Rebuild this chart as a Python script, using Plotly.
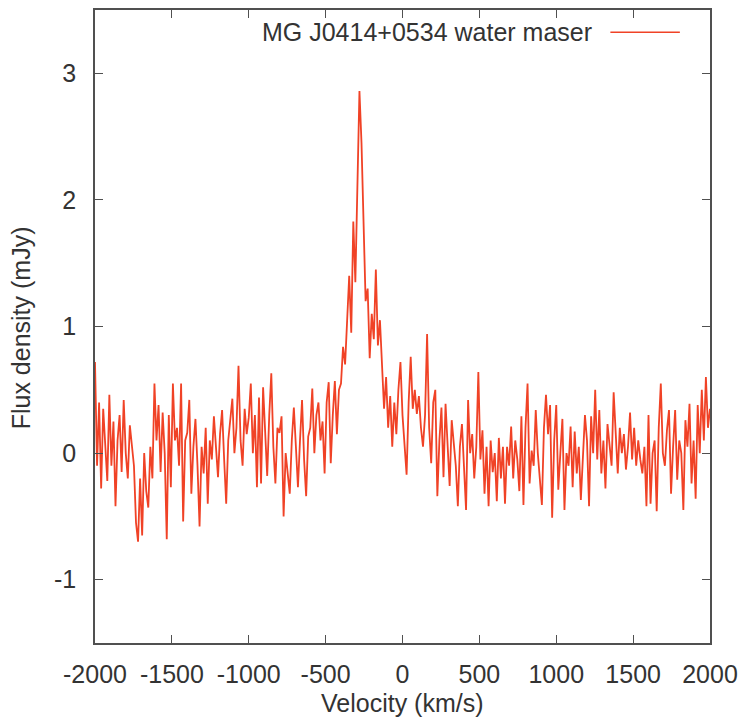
import numpy as np
import plotly.graph_objects as go

# ---- data ----
CHANNEL_START = -2000.0          # km/s
CHANNEL_WIDTH = 40.0 / 3.0       # km/s
flux_mjy = [
    0.72, -0.1, 0.4, -0.28, 0.35, 0.05, -0.22, 0.46, -0.1, 0.25,
    -0.42, 0.1, 0.3, -0.15, 0.42, 0.0, -0.2, 0.22, 0.05, -0.1,
    -0.55, -0.7, -0.2, -0.65, 0.0, -0.3, -0.43, 0.05, -0.2, 0.55,
    0.1, 0.38, -0.15, 0.32, 0.0, -0.68, 0.3, -0.27, 0.55, 0.1,
    0.2, -0.1, 0.55, -0.54, 0.1, 0.16, 0.42, -0.32, 0.05, 0.27,
    -0.1, -0.58, 0.05, -0.16, 0.2, -0.4, 0.1, -0.05, 0.29, 0.0,
    -0.19, 0.15, 0.34, -0.05, -0.4, 0.1, 0.25, 0.43, 0.0, 0.2,
    0.69, 0.1, -0.1, 0.35, 0.15, 0.28, 0.55, 0.0, 0.3, -0.27,
    0.44, -0.24, 0.52, 0.1, -0.18, 0.3, 0.63, 0.05, -0.24, 0.2,
    0.16, 0.29, -0.5, 0.0, -0.15, -0.32, 0.1, 0.36, 0.05, -0.27,
    0.1, 0.42, -0.05, -0.34, 0.13, 0.2, 0.51, 0.0, 0.3, 0.4,
    0.1, 0.25, -0.16, 0.4, 0.56, -0.08, 0.3, 0.57, 0.15, 0.5,
    0.55, 0.84, 0.7, 1.05, 1.4, 0.95, 1.83, 1.35, 2.2, 2.86,
    2.45, 1.72, 1.2, 1.3, 0.75, 1.1, 0.9, 1.45, 0.85, 1.05,
    0.7, 0.35, 0.6, 0.2, 0.45, 0.05, 0.4, 0.15, 0.5, 0.72,
    0.3, 0.1, -0.17, 0.4, 0.76, 0.35, 0.5, 0.31, 0.45, 0.2,
    0.05, 0.3, 0.94, 0.2, -0.08, 0.4, 0.5, -0.34, 0.1, 0.36,
    -0.19, 0.39, 0.0, -0.26, 0.26, 0.1, -0.1, -0.42, 0.05, 0.23,
    -0.1, -0.45, 0.42, 0.0, 0.15, -0.2, 0.05, 0.64, -0.05, 0.18,
    -0.32, 0.05, -0.42, 0.1, -0.15, 0.0, -0.38, 0.12, -0.2, 0.05,
    -0.4, 0.05, -0.1, 0.21, -0.2, 0.1, -0.05, -0.3, 0.29, -0.41,
    0.2, 0.55, -0.24, 0.02, -0.1, 0.34, 0.0, -0.2, -0.41, 0.2,
    0.46, 0.15, 0.38, -0.51, 0.1, 0.38, -0.29, 0.0, 0.27, -0.45,
    0.0, -0.1, 0.21, -0.27, 0.17, -0.16, 0.05, -0.37, 0.0, 0.3,
    0.1, -0.42, 0.29, 0.0, 0.5, -0.05, 0.34, -0.16, 0.1, -0.28,
    0.23, 0.05, -0.1, 0.48, 0.1, -0.16, 0.2, 0.0, 0.15, -0.13,
    0.05, 0.32, -0.05, 0.2, -0.1, 0.1, -0.05, -0.16, 0.05, -0.42,
    0.3, -0.4, 0.0, 0.1, -0.46, 0.2, 0.55, 0.0, -0.1, 0.18,
    0.34, -0.32, 0.05, 0.34, -0.21, 0.1, 0.0, -0.45, 0.26, 0.05,
    0.39, -0.24, 0.1, -0.36, 0.38, 0.0, 0.5, 0.1, 0.6, 0.2, 0.35,
]
velocity_kms = CHANNEL_START + CHANNEL_WIDTH * np.arange(len(flux_mjy))

x_tickvals = [-2000, -1500, -1000, -500, 0, 500, 1000, 1500, 2000]
x_ticktext = ["-2000", "-1500", "-1000", "-500", "0", "500", "1000", "1500", "2000"]
y_tickvals = [-1, 0, 1, 2, 3]
y_ticktext = ["-1", "0", "1", "2", "3"]
series_name = "MG J0414+0534 water maser"

# ---- styling ----
LINE_COLOR = "rgb(240,66,38)"
FRAME_COLOR = "#505050"
TEXT_COLOR = "#333333"
FONT = "Liberation Sans, Arial, sans-serif"
FS = 25

fig = go.Figure()
fig.add_trace(go.Scatter(
    x=velocity_kms, y=flux_mjy, mode="lines",
    line=dict(color=LINE_COLOR, width=1.8),
    name=series_name, showlegend=False,
))

axis_common = dict(
    showgrid=False, zeroline=False, showline=True, linecolor=FRAME_COLOR,
    linewidth=1.5, mirror="ticks", ticks="inside", ticklen=8, tickwidth=1.2,
    tickcolor=FRAME_COLOR, tickfont=dict(family=FONT, size=FS, color=TEXT_COLOR),
)

fig.update_xaxes(range=[-2000, 2000], tickvals=x_tickvals, ticktext=x_ticktext,
                 ticklabelstandoff=8, **axis_common)
fig.update_yaxes(range=[-1.5, 3.5], tickvals=y_tickvals, ticktext=y_ticktext,
                 ticklabelstandoff=12, **axis_common)

# legend (gnuplot style: text then sample line)
fig.add_annotation(xref="paper", yref="paper", x=0.812, y=0.965,
                   xanchor="right", yanchor="middle", showarrow=False,
                   text=series_name,
                   font=dict(family=FONT, size=FS, color=TEXT_COLOR))
fig.add_shape(type="line", xref="paper", yref="paper",
              x0=0.838, x1=0.951, y0=0.965, y1=0.965,
              line=dict(color=LINE_COLOR, width=1.5))

# axis titles
fig.add_annotation(xref="paper", yref="paper", x=0.5, y=-0.0945,
                   xanchor="center", yanchor="middle", showarrow=False,
                   text="Velocity (km/s)",
                   font=dict(family=FONT, size=FS, color=TEXT_COLOR))
fig.add_annotation(xref="paper", yref="paper", x=-0.121, y=0.498,
                   xanchor="center", yanchor="middle", showarrow=False,
                   textangle=-90, text="Flux density (mJy)",
                   font=dict(family=FONT, size=FS, color=TEXT_COLOR))

fig.update_layout(
    width=746, height=718,
    margin=dict(l=95, r=33, t=8, b=75),
    paper_bgcolor="white", plot_bgcolor="white",
    showlegend=False,
)

fig.write_html("out.html")
